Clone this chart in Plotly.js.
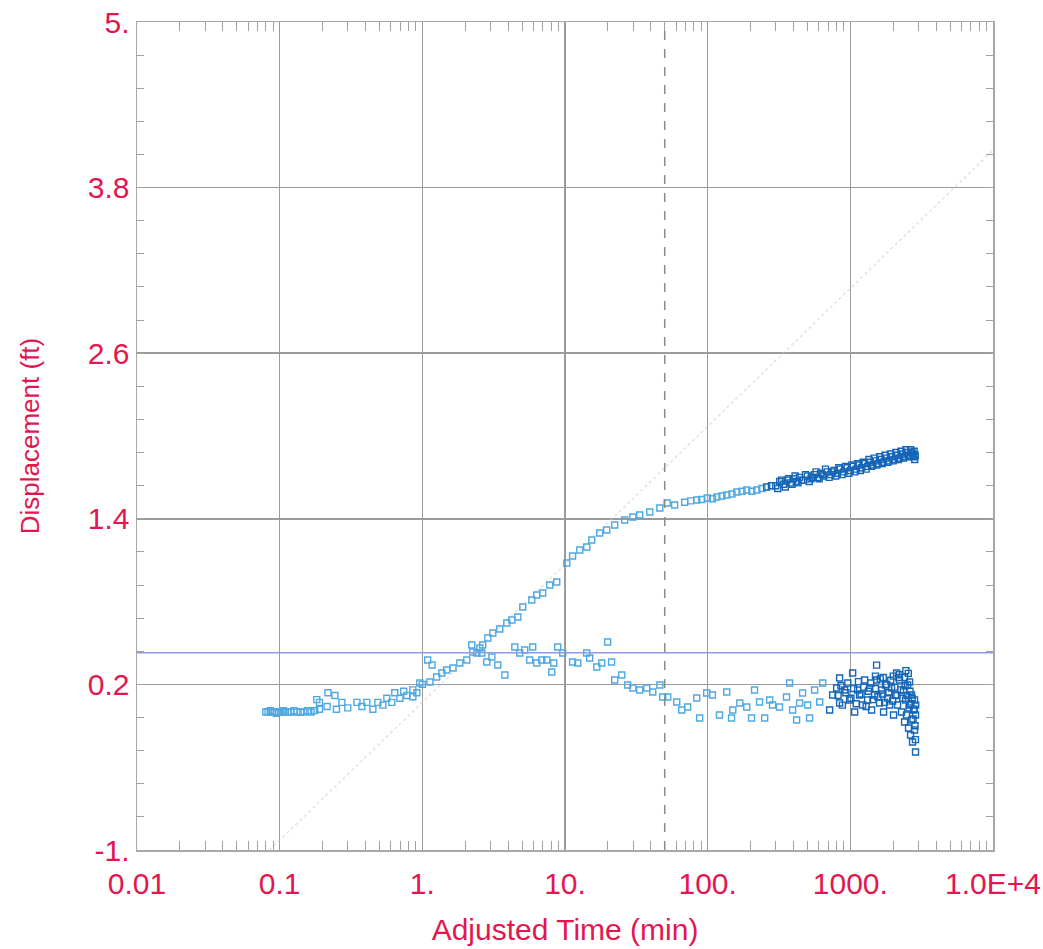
<!DOCTYPE html>
<html>
<head>
<meta charset="utf-8">
<script src="https://cdn.plot.ly/plotly-3.0.1.min.js"></script>
<style>html,body{margin:0;padding:0;background:#fff;}#chart{width:1043px;height:949px;}</style>
</head>
<body>
<div id="chart"></div>
<script>
// ---- Data ----
// Displacement vs adjusted time
var dispT = [0.080,0.083,0.086,0.089,0.092,0.095,0.098,0.102,0.106,0.110,0.115,0.120,0.126,0.132,0.140,0.148,0.157,0.166,0.176,0.190,
  0.215,0.250,0.300,0.377,0.450,0.529,0.611,0.696,0.779,0.858,0.915,1.00,1.13,1.26,1.37,1.48,1.64,1.83,2.05,2.26,2.53,2.65,2.88,3.12,3.49,3.91,4.24,4.67,5.06,5.85,6.34,6.98,7.82,8.75,
  10.3,11.3,12.7,14.2,15.4,17.5,19.6,22.3,26.2,29.9,33.4,39.3,46.2,52.0,58.7,69.0,76.0,83.8,91.0,99.4,108,116,126,136,148,160,174,188,204,221,240,259,280,
  300,320,340,360,380,400,420,440,470,500,530,560,590,620,650,690,730,770,810,850,900,950,1000,1050,1100,1150,1200,1260,1320,1380,1440,1500,1570,1640,1710,1790,1870,1950,2040,2130,2220,2310,2400,2500,2600,2700,2780,2830,
  310,330,350,370,390,410,430,455,485,515,545,575,605,635,670,710,750,790,830,875,925,975,1025,1075,1125,1175,1230,1290,1350,1410,1470,1535,1605,1675,1750,1830,1910,1995,2085,2175,2265,2355,2450,2550,2650,2740,2800,2850];
var dispV = [0.00,0.00,0.01,0.00,0.00,-0.01,0.00,0.00,0.01,0.00,0.00,0.00,0.01,0.00,0.00,0.00,0.01,0.00,0.01,0.02,
  0.04,0.02,0.03,0.04,0.02,0.05,0.07,0.10,0.12,0.11,0.14,0.20,0.217,0.254,0.283,0.304,0.319,0.355,0.377,0.435,0.464,0.486,0.536,0.572,0.601,0.645,0.667,0.688,0.761,0.812,0.848,0.862,0.920,0.942,
  1.08,1.13,1.174,1.196,1.246,1.297,1.319,1.355,1.391,1.413,1.428,1.449,1.478,1.514,1.50,1.52,1.53,1.536,1.54,1.551,1.545,1.558,1.565,1.572,1.58,1.594,1.60,1.609,1.60,1.609,1.62,1.63,1.64,
  1.64,1.67,1.65,1.68,1.66,1.69,1.67,1.70,1.68,1.71,1.69,1.72,1.70,1.73,1.71,1.74,1.72,1.75,1.73,1.76,1.74,1.77,1.75,1.78,1.76,1.79,1.77,1.80,1.78,1.81,1.79,1.82,1.80,1.83,1.81,1.84,1.82,1.85,1.83,1.86,1.84,1.87,1.85,1.88,1.86,1.88,1.85,1.83,
  1.62,1.68,1.63,1.69,1.65,1.71,1.66,1.68,1.72,1.67,1.70,1.74,1.69,1.72,1.76,1.70,1.74,1.71,1.77,1.72,1.78,1.73,1.79,1.74,1.80,1.75,1.81,1.76,1.83,1.78,1.84,1.79,1.85,1.80,1.86,1.81,1.87,1.82,1.88,1.83,1.89,1.84,1.90,1.85,1.90,1.87,1.89,1.86];

// Derivative / second response
var derivT = [0.182,0.190,0.218,0.244,0.273,0.348,0.408,0.488,0.564,0.641,0.740,0.858,0.960,
  1.09,1.17,2.22,2.41,2.61,2.83,3.07,3.38,3.79,4.45,4.82,5.22,5.66,5.94,6.34,6.87,7.45,8.07,8.34,8.89,9.64,11.3,12.3,14.2,14.9,16.7,18.1,19.9,21.2,22.3,25.0,27.5,29.9,33.4,37.4,41.2,46.2,48.4,52.5,60.7,65.8,72.4,83.8,87.9,98.4,
  108,121,136,147,150,168,188,203,213,231,251,272,285,319,357,375,394,420,441,463,502,518,562,610,640,716,752,802,841,841,912,
  988,1038,1072,1125,1161,1219,1259,1321,1365,1409,1479,1528,1528,1603,1656,1710,1766,1824,1884,1945,2009,2075,2110,2143,2213,2285,2360,2399,2438,2477,2518,2559,2600,2600,2642,2685,2685,2729,2773,2818,2818,2864,2864,
  820,860,880,930,960,1010,1055,1100,1140,1190,1240,1290,1340,1390,1440,1500,1560,1620,1680,1740,1800,1860,1920,1980,2050,2120,2190,2250,2330,2420,2500,2580,2620,2660,2710,2750,2800,2840,2860,2870,
  1500,1700,2000,2200,2400,2550,2450];
var derivV = [0.09,0.07,0.14,0.12,0.07,0.07,0.07,0.07,0.10,0.14,0.15,0.16,0.21,
  0.377,0.341,0.486,0.428,0.428,0.362,0.399,0.341,0.268,0.471,0.428,0.449,0.377,0.471,0.355,0.377,0.377,0.290,0.355,0.471,0.428,0.362,0.355,0.428,0.391,0.326,0.355,0.507,0.362,0.232,0.268,0.196,0.174,0.159,0.174,0.145,0.196,0.109,0.109,0.072,0.014,0.036,0.101,-0.043,0.138,
  0.123,-0.022,0.145,-0.043,0.014,0.065,0.036,-0.043,0.159,0.072,-0.043,0.087,0.051,0.036,0.109,0.210,0.014,-0.058,0.065,0.138,0.051,-0.043,0.159,0.072,0.210,0.014,0.123,0.174,0.065,0.246,0.159,
  0.087,0.283,0.000,0.159,0.123,0.051,0.232,0.087,0.174,0.014,0.123,0.232,0.340,0.065,0.159,0.000,0.196,0.101,0.051,0.174,-0.022,0.123,0.283,0.051,0.232,0.000,0.159,-0.072,0.087,-0.022,0.196,-0.116,0.217,0.051,-0.167,0.123,-0.058,-0.217,0.014,0.087,-0.130,-0.290,-0.022,
  0.12,0.19,0.05,0.14,0.21,0.10,0.17,0.06,0.22,0.13,0.18,0.04,0.15,0.21,0.09,0.17,0.11,0.24,0.13,0.07,0.20,0.14,0.23,0.08,0.18,0.12,0.25,0.16,0.10,0.19,0.12,0.03,0.15,0.06,0.10,-0.05,0.02,-0.10,-0.20,0.05,
  0.26,0.25,0.26,0.27,0.25,0.28,0.30];

// Straight-line fit, drawn faintly
var fitT = [0.085, 10000];
var fitV = [-1.0, 4.07];

// Reference markers
var refLevel = 0.43;   // horizontal line (ft)
var refTime = 50;      // vertical dashed line (min)

var xTickVals = [0.01, 0.1, 1, 10, 100, 1000, 10000];
var xTickText = ['0.01', '0.1', '1.', '10.', '100.', '1000.', '1.0E+4'];
var yTickVals = [-1, 0.2, 1.4, 2.6, 3.8, 5];
var yTickText = ['-1.', '0.2', '1.4', '2.6', '3.8', '5.'];

// ---- Build figure ----
var red = '#e3174f';
var gridCol = '#9b9b9b';
var minorX = [];
for (var d = -2; d < 4; d++) { for (var k = 2; k <= 9; k++) minorX.push(k * Math.pow(10, d)); }

function colFor(t, thr) { return t > thr ? '#1565b8' : '#4fa8e2'; }

var traces = [
  {x: fitT, y: fitV, mode: 'lines', line: {color: 'rgba(215,190,200,0.5)', width: 1.5, dash: 'dot'}, hoverinfo: 'skip', showlegend: false},
  {x: dispT, y: dispV, mode: 'markers', showlegend: false,
   marker: {symbol: 'square-open', size: 6, line: {width: 1.4}, color: dispT.map(function (t) { return colFor(t, 250); })}},
  {x: derivT, y: derivV, mode: 'markers', showlegend: false,
   marker: {symbol: 'square-open', size: 6, line: {width: 1.4}, color: derivT.map(function (t) { return colFor(t, 650); })}}
];

var layout = {
  width: 1043, height: 949,
  margin: {l: 137, r: 50, t: 22, b: 99},
  paper_bgcolor: '#ffffff', plot_bgcolor: '#ffffff',
  font: {family: 'Liberation Sans, Arial, sans-serif', color: red},
  showlegend: false,
  xaxis: {
    type: 'log', range: [-2, 4],
    tickmode: 'array', tickvals: xTickVals, ticktext: xTickText,
    tickfont: {size: 30, color: red},
    ticklabelstandoff: 6,
    showgrid: true, gridcolor: gridCol, gridwidth: 1.5,
    showline: true, linecolor: '#a8a8a8', linewidth: 1.5, mirror: 'allticks',
    ticks: 'inside', ticklen: 0, tickcolor: '#a0a0a0',
    minor: {tickmode: 'array', tickvals: minorX, ticks: 'inside', ticklen: 9, tickcolor: '#a0a0a0', tickwidth: 1, showgrid: false},
    zeroline: false,
    title: {text: 'Adjusted Time (min)', font: {size: 30, color: red}, standoff: 20}
  },
  yaxis: {
    range: [-1, 5],
    tickmode: 'array', tickvals: yTickVals, ticktext: yTickText,
    tickfont: {size: 30, color: red},
    showgrid: true, gridcolor: gridCol, gridwidth: 1.5,
    showline: true, linecolor: '#a8a8a8', linewidth: 1.5, mirror: 'allticks',
    ticks: 'inside', ticklen: 0, tickcolor: '#a0a0a0',
    minor: {tick0: -1, dtick: 0.24, ticks: 'inside', ticklen: 7, tickcolor: '#a0a0a0', tickwidth: 1, showgrid: false},
    zeroline: false,
    title: {text: 'Displacement (ft)', font: {size: 26, color: red}, standoff: 40}
  },
  shapes: [
    {type: 'line', xref: 'paper', x0: 0, x1: 1, yref: 'y', y0: refLevel, y1: refLevel, line: {color: '#8e9be2', width: 1.5}},
    {type: 'line', xref: 'x', x0: refTime, x1: refTime, yref: 'paper', y0: 0, y1: 1, line: {color: '#8a8a8a', width: 1.5, dash: 'dash'}}
  ]
};

Plotly.newPlot('chart', traces, layout, {displayModeBar: false, staticPlot: true});
</script>
</body>
</html>
